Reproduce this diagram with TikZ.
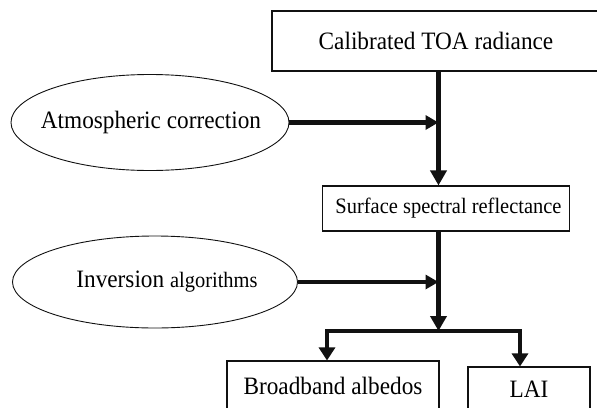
\documentclass[tikz,border=0pt]{standalone}
\usepackage{fontspec}
\setmainfont{Liberation Serif}[FakeStretch=0.93]
\usepackage{tikz}
\usetikzlibrary{shapes.geometric,arrows.meta,positioning,calc}
\definecolor{flInk}{HTML}{111111}

\begin{document}
\begin{tikzpicture}[
  x=1pt,y=-1pt,
  font=\fontsize{25}{28}\selectfont,
  box/.style={draw=flInk,line width=1.1pt,fill=white,inner sep=2pt},
  src/.style={draw=flInk,line width=0.9pt,ellipse,inner sep=0pt},
  fl/.style={draw=flInk,line width=4.5pt,line join=miter},
  tipv/.style={-{Triangle[length=15pt,width=16pt]}},
  tiph/.style={-{Triangle[length=13pt,width=14pt]}}]

\useasboundingbox (0,0) rectangle (597,407);
\clip (0,0) rectangle (597,407);

\node[box,minimum width=328,minimum height=60] (toa)  at (436,41) {Calibrated TOA radiance};
\node[box,minimum width=247,minimum height=45,font=\fontsize{22}{25}\selectfont]
                                               (surf) at (446,208.5) {\hspace*{5pt}Surface spectral reflectance};
\node[box,minimum width=212,minimum height=50] (bb)   at (333,386) {Broadband albedos};
\node[box,minimum width=122,minimum height=44] (lai)  at (529,389) {LAI};

\node[src,minimum width=278,minimum height=96,
      label={[xshift=1pt]center:Atmospheric correction}] (atm) at (150,122.5) {};
\node[src,minimum width=285,minimum height=92,
      label={[xshift=12pt]center:Inversion \fontsize{22}{25}\selectfont algorithms}] (inv) at (155,282) {};

\coordinate (j1) at (438.5,122.5);
\coordinate (j2) at (438.5,282);
\coordinate (j3) at (438.5,331);
\coordinate (b1) at (327,331);
\coordinate (b2) at (520,331);

\draw[fl,tipv] (toa.south -| j1) -- (j1 |- surf.north);
\draw[fl,tiph] (atm.east) -- (j1);
\draw[fl,tipv] (surf.south -| j2) -- (j3);
\draw[fl,tiph] (inv.east) -- (j2);
\draw[fl,{Triangle[length=13pt,width=16pt]}-{Triangle[length=13pt,width=16pt]}]
     (b1 |- bb.north) -- (b1) -- (b2) -- (b2 |- lai.north);
\end{tikzpicture}
\end{document}
